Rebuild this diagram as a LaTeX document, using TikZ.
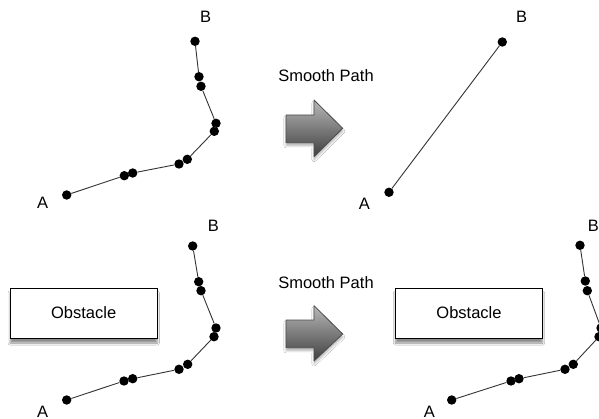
\documentclass[tikz,border=0pt]{standalone}
\usepackage{fontspec}
\setmainfont{Liberation Sans}
\usetikzlibrary{shadows.blur}
\tikzset{
  dot/.style={circle,fill=black,inner sep=0pt,minimum size=9.4pt},
  lbl/.style={font=\fontsize{16.5}{19}\selectfont,inner sep=0pt},
  seg/.style={draw=black!80,line width=0.9pt},
  bigarrow/.style={draw=black!70,line width=0.8pt,top color=black!28,bottom color=black!75,line join=round,
    blur shadow={shadow xshift=0pt,shadow yshift=-3pt,shadow blur steps=6,shadow opacity=30}},
  obstacle/.style={draw=black,line width=0.8pt,fill=white,minimum width=147pt,minimum height=50pt,
    inner sep=0pt,font=\fontsize{16.5}{19}\selectfont,
    blur shadow={shadow xshift=0pt,shadow yshift=-5pt,shadow blur steps=8,shadow opacity=45}}
}
\begin{document}
\begin{tikzpicture}[x=1pt,y=-1pt]
\useasboundingbox[fill=white] (0,0) rectangle (599,419);

% ---------- top left: raw path ----------
\node[dot] (tlA) at (66.7,195) {};
\node[dot] (tl1) at (124.3,175.7) {};
\node[dot] (tl2) at (132.7,173) {};
\node[dot] (tl3) at (179,164) {};
\node[dot] (tl4) at (187.3,159.3) {};
\node[dot] (tl5) at (214.3,131.3) {};
\node[dot] (tl6) at (216,123.3) {};
\node[dot] (tl7) at (201,86.3) {};
\node[dot] (tl8) at (199,76.7) {};
\node[dot] (tlB) at (195,41.3) {};
\draw[seg] (tlA)--(tl1)--(tl2)--(tl3)--(tl4)--(tl5)--(tl6)--(tl7)--(tl8)--(tlB);
\node[lbl] (tlAl) at (42.7,203.3) {A};
\node[lbl] (tlBl) at (205.7,16.7) {B};

% ---------- top arrow ----------
\node[lbl] (tsp) at (326,76) {Smooth Path};
\path[bigarrow] (286,115) -- (314,115) -- (314,100) -- (342.7,128.3) -- (314,156.7) -- (314,142.7) -- (286,142.7) -- cycle;

% ---------- top right: smoothed ----------
\node[dot] (trA) at (389,192.3) {};
\node[dot] (trB) at (502.3,42) {};
\draw[seg] (trA)--(trB);
\node[lbl] (trAl) at (364.3,204) {A};
\node[lbl] (trBl) at (521.7,16.7) {B};

% ---------- bottom left ----------
\node[obstacle] (obl) at (83.7,313) {Obstacle};
\node[dot] (blA) at (66.7,400) {};
\node[dot] (bl1) at (124,381) {};
\node[dot] (bl2) at (132.7,378.7) {};
\node[dot] (bl3) at (179,369.3) {};
\node[dot] (bl4) at (187.7,364.3) {};
\node[dot] (bl5) at (214,336.7) {};
\node[dot] (bl6) at (216,328) {};
\node[dot] (bl7) at (201,290.7) {};
\node[dot] (bl8) at (198.7,281.7) {};
\node[dot] (blB) at (192.7,246) {};
\draw[seg] (blA)--(bl1)--(bl2)--(bl3)--(bl4)--(bl5)--(bl6)--(bl7)--(bl8)--(blB);
\node[lbl] (blAl) at (42.7,411.7) {A};
\node[lbl] (blBl) at (213.3,226) {B};

% ---------- bottom arrow ----------
\node[lbl] (bsp) at (326,282.7) {Smooth Path};
\path[bigarrow] (286,320) -- (314,320) -- (314,305.7) -- (342.7,334) -- (314,361) -- (314,347.7) -- (286,347.7) -- cycle;

% ---------- bottom right ----------
\node[obstacle] (obr) at (469,313) {Obstacle};
\node[dot] (brA) at (451.7,400) {};
\node[dot] (br1) at (511,381) {};
\node[dot] (br2) at (519,378.7) {};
\node[dot] (br3) at (565,369.3) {};
\node[dot] (br4) at (573.3,364.3) {};
\node[dot] (br5) at (599,336.7) {};
\node[dot] (br6) at (601,328) {};
\node[dot] (br7) at (587.3,290.7) {};
\node[dot] (br8) at (585.3,281) {};
\node[dot] (brB) at (580,245.3) {};
\draw[seg] (brA)--(br1)--(br2)--(br3)--(br4)--(br5)--(br6)--(br7)--(br8)--(brB);
\node[lbl] (brAl) at (429.3,411.7) {A};
\node[lbl] (brBl) at (593.3,226) {B};
\end{tikzpicture}
\end{document}
